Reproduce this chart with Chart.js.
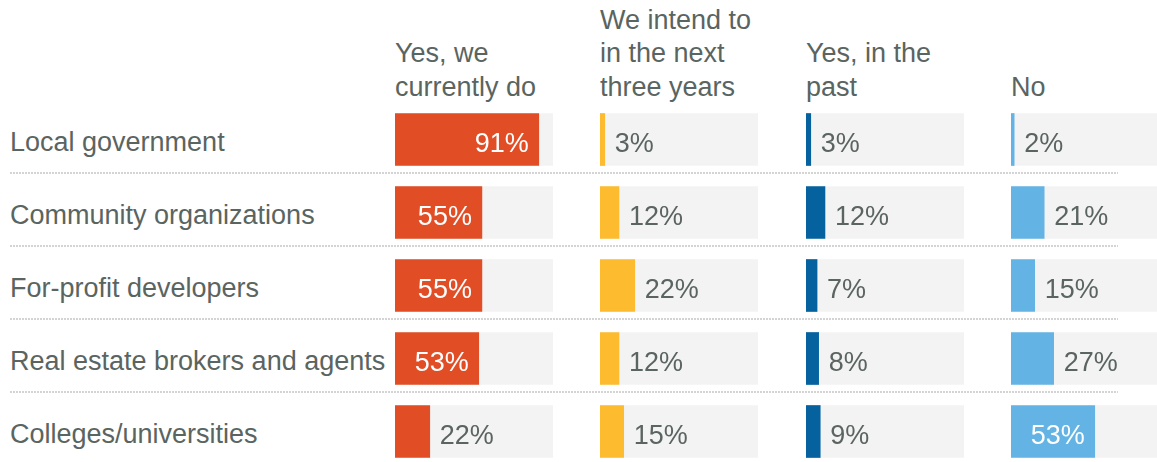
<!DOCTYPE html>
<html>
<head>
<meta charset="utf-8">
<title>Partnerships by organization type</title>
<script src="https://cdn.jsdelivr.net/npm/chart.js@4/dist/chart.umd.min.js"></script>
<style>
    html, body {
        margin: 0;
        padding: 0;
        background: #ffffff;
        width: 1157px;
        height: 462px;
        overflow: hidden;
        position: relative;
        font-family: "Liberation Sans", Arial, Helvetica, sans-serif;
        color: #5a6461;
    }
    .header {
        position: absolute;
        top: 0;
        height: 104px;
        width: 200px;
        display: flex;
        align-items: flex-end;
        font-size: 27px;
        line-height: 33.5px;
        white-space: nowrap;
    }
    .row-label {
        position: absolute;
        left: 10px;
        height: 73px;
        line-height: 73px;
        font-size: 27px;
        white-space: nowrap;
    }
    .separator {
        position: absolute;
        left: 10px;
        width: 1108px;
        height: 2px;
        background: repeating-linear-gradient(to right, #d4d4d4 0 2px, transparent 2px 3px);
    }
    canvas {
        position: absolute;
    }
</style>
</head>
<body>

<script>
'use strict';

// Categories and column titles
const rowLabels = [
    'Local government',
    'Community organizations',
    'For-profit developers',
    'Real estate brokers and agents',
    'Colleges/universities'
];
const columnTitles = [
    ['Yes, we', 'currently do'],
    ['We intend to', 'in the next', 'three years'],
    ['Yes, in the', 'past'],
    ['No']
];

// Share of respondents (%) per answer
const currentlyDo = [91, 55, 55, 53, 22];
const intendNextThreeYears = [3, 12, 22, 12, 15];
const yesInPast = [3, 12, 7, 8, 9];
const noValues = [2, 21, 15, 27, 53];

const seriesList = [currentlyDo, intendNextThreeYears, yesInPast, noValues];
const seriesColors = ['#e14e26', '#fdbb2f', '#05629f', '#63b4e5'];
const TRACK_MAX = 100;

// Layout
const columnLeft = [395, 600, 806, 1011];
const trackWidth = 158;
const rowPitch = 73;
const firstBarTop = 113;
const barHeight = 52;
const chartTop = firstBarTop - (rowPitch - barHeight) / 2;
const textColor = '#5a6461';
const fontFamily = '"Liberation Sans", Arial, Helvetica, sans-serif';

/**
 * Draws the percentage next to or inside each bar
 */
const valueLabels = {
    id: 'valueLabels',
    afterDatasetsDraw(chart) {
        const ctx = chart.ctx;
        const meta = chart.getDatasetMeta(0);
        const values = chart.data.datasets[0].data;
        ctx.save();
        ctx.font = '27px ' + fontFamily;
        ctx.textBaseline = 'alphabetic';
        meta.data.forEach((bar, i) => {
            const v = values[i];
            const text = v + '%';
            const y = bar.y + 12;
            if (v >= 50) {
                ctx.fillStyle = '#ffffff';
                ctx.textAlign = 'right';
                ctx.fillText(text, bar.x - 10, y);
            } else {
                ctx.fillStyle = textColor;
                ctx.textAlign = 'left';
                ctx.fillText(text, bar.x + 10, y);
            }
        });
        ctx.restore();
    }
};

function addHeader(lines, left) {
    const div = document.createElement('div');
    div.className = 'header';
    div.style.left = left + 'px';
    const inner = document.createElement('div');
    inner.innerHTML = lines.join('<br>');
    div.appendChild(inner);
    document.body.appendChild(div);
}

function addRowLabels() {
    rowLabels.forEach((label, i) => {
        const div = document.createElement('div');
        div.className = 'row-label';
        div.style.top = (chartTop + i * rowPitch + 3) + 'px';
        div.textContent = label;
        document.body.appendChild(div);
    });
    // dotted separators between rows
    for (let i = 1; i < rowLabels.length; i++) {
        const sep = document.createElement('div');
        sep.className = 'separator';
        sep.style.top = (firstBarTop + barHeight + 7 + (i - 1) * rowPitch) + 'px';
        document.body.appendChild(sep);
    }
}

function initColumnChart(values, color, left) {
    const canvas = document.createElement('canvas');
    canvas.width = trackWidth;
    canvas.height = rowPitch * rowLabels.length;
    canvas.style.left = left + 'px';
    canvas.style.top = chartTop + 'px';
    document.body.appendChild(canvas);

    return new Chart(canvas, {
        type: 'bar',
        data: {
            labels: rowLabels,
            datasets: [{
                data: values,
                backgroundColor: color
            }, {
                data: rowLabels.map(() => TRACK_MAX),
                backgroundColor: '#f3f3f3'
            }]
        },
        options: {
            indexAxis: 'y',
            responsive: false,
            animation: false,
            devicePixelRatio: 1,
            layout: { padding: 0 },
            datasets: {
                bar: {
                    grouped: false,
                    barThickness: barHeight,
                    borderWidth: 0
                }
            },
            plugins: {
                legend: { display: false },
                tooltip: { enabled: false }
            },
            scales: {
                x: { display: false, min: 0, max: TRACK_MAX },
                y: { display: false }
            }
        },
        plugins: [valueLabels]
    });
}

function init() {
    columnTitles.forEach((lines, i) => addHeader(lines, columnLeft[i]));
    addRowLabels();
    seriesList.forEach((values, i) => initColumnChart(values, seriesColors[i], columnLeft[i]));
}

init();
</script>
</body>
</html>
